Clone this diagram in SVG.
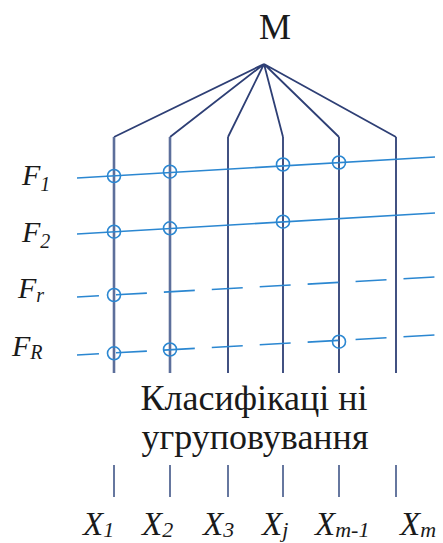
<svg xmlns="http://www.w3.org/2000/svg" width="443" height="543" viewBox="0 0 443 543">
<defs>
<circle id="ring" r="6.5" fill="none" stroke="#2b87d1" stroke-width="1.6"/>
</defs>
<g id="connectors" fill="none">
<path stroke="#2e3f75" stroke-width="1.8" d="M264,64 L114,137 M264,64 L170,137 M264,64 L228,137 M264,64 L283,137 M264,64 L339,137 M264,64 L396,137"/>
<path stroke="#5d6f9b" stroke-width="2.6" d="M114,137 V373 M170,137 V373"/>
<path stroke="#2e3f75" stroke-width="1.8" d="M228,137 V373 M283,137 V373 M339,137 V373 M396,137 V373"/>
<path stroke="#66779f" stroke-width="2" d="M114,465 V497 M170,465 V497 M228,465 V497 M283,465 V497 M339,465 V497 M396,465 V497"/>
<g stroke="#2b87d1" stroke-width="1.6">
<line x1="77" y1="178" x2="435" y2="157"/>
<line x1="77" y1="234" x2="435" y2="213"/>
<g stroke-dasharray="31 17" stroke-dashoffset="9">
<line x1="77" y1="297" x2="435" y2="277"/>
<line x1="77" y1="355" x2="435" y2="335"/>
</g>
</g>
</g>
<g id="intersections">
<use href="#ring" x="114" y="176"/>
<use href="#ring" x="170" y="171.7"/>
<use href="#ring" x="283" y="164.5"/>
<use href="#ring" x="339" y="162.5"/>
<use href="#ring" x="114" y="231.7"/>
<use href="#ring" x="170" y="228.3"/>
<use href="#ring" x="283" y="221.7"/>
<use href="#ring" x="114" y="295"/>
<use href="#ring" x="114" y="353.3"/>
<use href="#ring" x="170" y="349.5"/>
<use href="#ring" x="339" y="341.7"/>
</g>
<g fill="#1a1a1a" font-family="Liberation Serif, Times New Roman, serif">
<g id="node-M"><text x="275" y="39" font-size="36" text-anchor="middle">M</text></g>
<g font-style="italic" font-size="30">
<g id="node-F1"><text x="22" y="185">F<tspan font-size="20" dy="6">1</tspan></text></g>
<g id="node-F2"><text x="22" y="242">F<tspan font-size="20" dy="6">2</tspan></text></g>
<g id="node-Fr"><text x="18" y="298">F<tspan font-size="20" dy="4">r</tspan></text></g>
<g id="node-FR"><text x="12" y="356">F<tspan font-size="20" dy="3">R</tspan></text></g>
</g>
<g id="node-groups" font-size="36" text-anchor="middle"><text x="254" y="410">Класифікаці ні</text>
<text x="255" y="449">угруповування</text></g>
<g font-style="italic" font-size="33">
<g id="node-X1"><text x="83" y="535">X<tspan font-size="22" dy="2">1</tspan></text></g>
<g id="node-X2"><text x="142" y="535">X<tspan font-size="22" dy="2">2</tspan></text></g>
<g id="node-X3"><text x="203" y="535">X<tspan font-size="22" dy="2">3</tspan></text></g>
<g id="node-Xj"><text x="262" y="535">X<tspan font-size="22" dy="2">j</tspan></text></g>
<g id="node-Xm-1"><text x="315" y="535">X<tspan font-size="22" dy="2">m-1</tspan></text></g>
<g id="node-Xm"><text x="400" y="535">X<tspan font-size="22" dy="2">m</tspan></text></g>
</g>
</g>
</svg>
